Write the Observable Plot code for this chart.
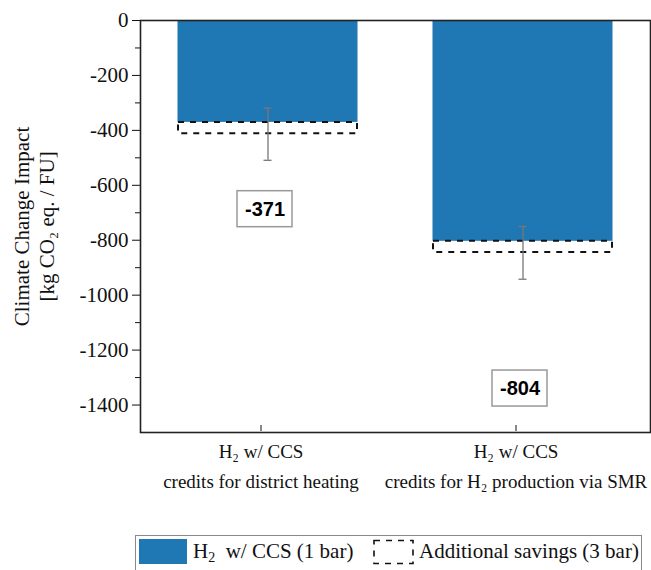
<!DOCTYPE html>
<html><head><meta charset="utf-8">
<script src="https://cdn.jsdelivr.net/npm/d3@7"></script>
<script src="https://cdn.jsdelivr.net/npm/@observablehq/plot@0.6"></script>
<style>
body{margin:0;background:#fff;}
#wrap{position:relative;width:651px;height:570px;overflow:hidden;font-family:"Liberation Serif","Times New Roman",serif;color:#111;}
#chart{position:absolute;left:0;top:0;}
#chart svg text{font-family:"Liberation Serif","Times New Roman",serif;}
#chart svg g.lbl text{font-family:"Liberation Sans",Arial,sans-serif;}
#legend{position:absolute;left:135px;top:535px;width:507px;height:38px;border:1px solid #888;box-sizing:border-box;font-size:21px;}
#legend .sw{position:absolute;left:3px;top:3px;width:48px;height:25px;background:#1f77b4;}
#legend .t{position:absolute;top:2px;line-height:26px;white-space:pre;}
#legend svg{position:absolute;left:237px;top:3px;}
sub{font-size:14px;vertical-align:-4px;line-height:0;}
</style></head><body>
<div id="wrap"><div id="chart"></div>
<div id="legend">
  <div class="sw"></div>
  <div class="t" style="left:57px">H<sub>2</sub>  w/ CCS (1 bar)</div>
  <svg width="41" height="26"><rect x="1" y="1.5" width="39" height="23" fill="none" stroke="#111" stroke-width="1.6" stroke-dasharray="6,6"/></svg>
  <div class="t" style="left:283px">Additional savings (3 bar)</div>
</div></div>
<script>
const categories = ["H₂ w/ CCS\ncredits for district heating", "H₂ w/ CCS\ncredits for H₂ production via SMR"];
const baseValues = [-371, -804];
const totalValues = [-412, -845];
const errHigh = [-319, -750];
const errLow = [-509, -942];
const labelY = [-687, -1340];
const yTicks = [0, -200, -400, -600, -800, -1000, -1200, -1400];
const yMinorTicks = [-100, -300, -500, -700, -900, -1100, -1300];

const data = categories.map((c, i) => ({
  cat: c, base: baseValues[i], total: totalValues[i],
  hi: errHigh[i], lo: errLow[i], ly: labelY[i], label: String(baseValues[i])
}));

const serif = '"Liberation Serif","Times New Roman",serif';
const chart = Plot.plot({
  width: 651, height: 530,
  marginLeft: 140, marginRight: 1, marginTop: 20, marginBottom: 98,
  style: {fontFamily: serif, fontSize: "20px", color: "#111", background: "#fff"},
  x: {domain: categories, padding: 0, label: null},
  y: {domain: [-1500, 0], label: null},
  marks: [
    Plot.barY(data, {x: "cat", y1: 0, y2: "base", fill: "#1f77b4", insetLeft: 37.5, insetRight: 37.5}),
    Plot.rect(data, {x: "cat", y1: "base", y2: "total", fill: "none", stroke: "#111", strokeWidth: 2, strokeDasharray: "6,6", insetLeft: 38, insetRight: 38}),
    Plot.ruleX(data, {x: "cat", y1: "hi", y2: "lo", stroke: "#777", strokeWidth: 1.3}),
    Plot.tickY(data, {x: "cat", y: "hi", stroke: "#777", strokeWidth: 1.3, insetLeft: 123.5, insetRight: 123.5}),
    Plot.tickY(data, {x: "cat", y: "lo", stroke: "#777", strokeWidth: 1.3, insetLeft: 123.5, insetRight: 123.5}),
    Plot.rect(data, {x: "cat", y1: "ly", y2: "ly", fill: "#fff", stroke: "#999", strokeWidth: 1.5, insetLeft: 97, insetRight: 103, insetTop: -18, insetBottom: -18}),
    Plot.text(data, {x: "cat", y: "ly", text: "label", dx: -3, className: "lbl", fontFamily: '"Liberation Sans",Arial,sans-serif', fontWeight: "bold", fontSize: 20, fill: "#000"}),
    Plot.axisY({ticks: yTicks, tickSize: 8, tickPadding: 4, tickFormat: d => String(d), label: null, fontSize: 21, fontFamily: serif}),
    Plot.axisY({ticks: yMinorTicks, tickSize: 5, tickFormat: null, text: null, label: null}),
    Plot.axisX({tickSize: 6, tickPadding: 6, label: null, fontSize: 19, lineHeight: 1.55, fontFamily: serif, dx: -7, dy: -7}),
    Plot.text(["Climate Change Impact\n[kg CO₂ eq. / FU]"], {frameAnchor: "left", textAnchor: "middle", dx: -107, rotate: -90, fontSize: 21, lineHeight: 1.2, fill: "#111", fontFamily: serif}),
    Plot.frame({stroke: "#222", strokeWidth: 1.6})
  ]
});
document.getElementById("chart").appendChild(chart);
</script>
</body></html>
